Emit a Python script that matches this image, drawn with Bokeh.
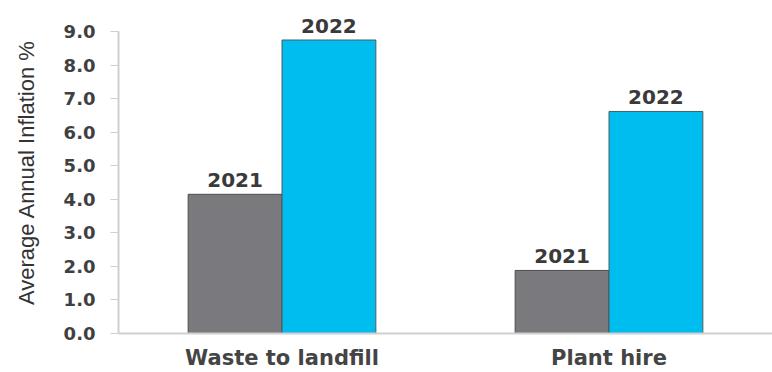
from bokeh.plotting import figure
from bokeh.models import FactorRange, FixedTicker, NumeralTickFormatter, ColumnDataSource, LabelSet, Range1d
from bokeh.transform import dodge
from bokeh.core.properties import value
from bokeh.embed import file_html
from bokeh.resources import INLINE

categories = ["Waste to landfill", "Plant hire"]
v2021 = [4.15, 1.88]
v2022 = [8.75, 6.62]
years = ["2021", "2022"]
yticks = [0, 1, 2, 3, 4, 5, 6, 7, 8, 9]

src = ColumnDataSource(dict(cat=categories, a=v2021, b=v2022,
                            la=[years[0]] * 2, lb=[years[1]] * 2))

p = figure(width=772, height=372, x_range=FactorRange(*categories, range_padding=0),
           y_range=Range1d(0, 9.6), output_backend="svg", toolbar_location=None,
           min_border_left=118, min_border_right=0, min_border_top=11, min_border_bottom=39)
p.outline_line_color = None
p.xgrid.grid_line_color = None
p.ygrid.grid_line_color = None

W = 0.287
off = 0.1435
p.vbar(x=dodge("cat", -off, range=p.x_range), top="a", width=W, source=src,
       fill_color="#7a7a7e", line_color="#4d4d4d", line_width=1)
p.vbar(x=dodge("cat", off, range=p.x_range), top="b", width=W, source=src,
       fill_color="#00bdf0", line_color="#4d5a60", line_width=1)

common = dict(text_font=value("DejaVu Sans"), text_font_size=value("20px"), text_color="#3a3a3a",
              text_font_style="bold", text_align="center", text_baseline="bottom",
              source=src, y_offset=7, level="overlay")
p.add_layout(LabelSet(x=dodge("cat", -off, range=p.x_range), y="a", text="la", **common))
p.add_layout(LabelSet(x=dodge("cat", off, range=p.x_range), y="b", text="lb", **common))

ya = p.yaxis[0]
ya.bounds = (0, 9)
ya.ticker = FixedTicker(ticks=yticks)
ya.formatter = NumeralTickFormatter(format="0.0")
ya.axis_label = "Average Annual Inflation %"
ya.axis_label_text_font = "Liberation Sans"
ya.axis_label_text_font_style = "normal"
ya.axis_label_text_font_size = "22px"
ya.axis_label_text_color = "#333333"
ya.axis_label_standoff = 22
ya.major_label_text_font = "DejaVu Sans"
ya.major_label_text_font_style = "bold"
ya.major_label_text_font_size = "18px"
ya.major_label_text_color = "#404040"
ya.major_label_standoff = 15
ya.major_tick_out = 8
ya.major_tick_in = 0
ya.minor_tick_out = 0
ya.minor_tick_in = 0
ya.major_tick_line_color = "#d0d0d0"
ya.axis_line_color = "#d0d0d0"
ya.axis_line_width = 2

xa = p.xaxis[0]
xa.axis_line_color = "#d0d0d0"
xa.axis_line_width = 2
xa.major_tick_line_color = None
xa.major_label_text_font = "DejaVu Sans"
xa.major_label_text_font_style = "bold"
xa.major_label_text_font_size = "21px"
xa.major_label_text_color = "#444444"
xa.major_label_standoff = 6

open("out.html", "w").write(file_html(p, INLINE))
